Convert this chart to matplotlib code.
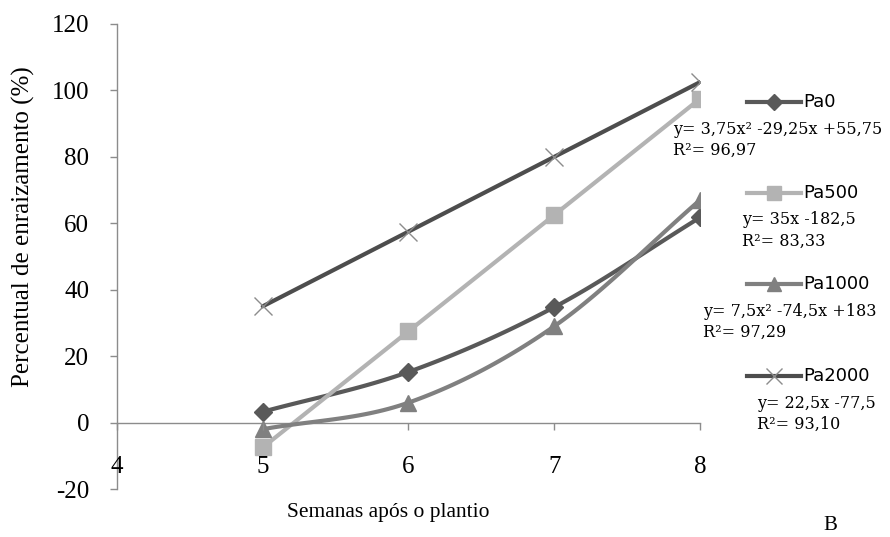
import numpy as np
import matplotlib
matplotlib.use("Agg")
import matplotlib.pyplot as plt
from matplotlib.lines import Line2D

plt.rcParams["axes.unicode_minus"] = False

# semanas após o plantio
semanas = [5, 6, 7, 8]

# percentual de enraizamento por tratamento
pa0 = [3.25, 15.25, 34.75, 61.75]
pa500 = [-7.5, 27.5, 62.5, 97.5]
pa1000 = [-2.0, 6.0, 29.0, 67.0]
pa2000 = [35.0, 57.5, 80.0, 102.5]

nomes = ["Pa0", "Pa500", "Pa1000", "Pa2000"]
equacoes = ["y= 3,75x² -29,25x +55,75", "y= 35x -182,5",
            "y= 7,5x² -74,5x +183", "y= 22,5x -77,5"]
r2 = ["R²= 96,97", "R²= 83,33", "R²= 97,29", "R²= 93,10"]

cores = ["#595959", "#b3b3b3", "#808080", "#4d4d4d"]
marcadores = ["D", "s", "^", "x"]
tam_marc = [9, 11, 11, 13]


def suaviza(x, y, n=30):
    # curva tipo Catmull-Rom passando pelos pontos (linha suavizada)
    x = np.asarray(x, float)
    y = np.asarray(y, float)
    px = np.concatenate([[2 * x[0] - x[1]], x, [2 * x[-1] - x[-2]]])
    py = np.concatenate([[2 * y[0] - y[1]], y, [2 * y[-1] - y[-2]]])
    xs, ys = [], []
    t = np.linspace(0, 1, n)
    for i in range(1, len(px) - 2):
        for p, out in ((px, xs), (py, ys)):
            p0, p1, p2, p3 = p[i - 1], p[i], p[i + 1], p[i + 2]
            out.extend(0.5 * ((2 * p1) + (-p0 + p2) * t
                              + (2 * p0 - 5 * p1 + 4 * p2 - p3) * t ** 2
                              + (-p0 + 3 * p1 - 3 * p2 + p3) * t ** 3))
    return xs, ys


fig = plt.figure(figsize=(8.9, 5.37), dpi=100)
ax = fig.add_axes([117 / 890, 1 - 489 / 537, (700 - 117) / 890, (489 - 24) / 537])

series = [pa0, pa500, pa1000, pa2000]
for vals, cor, m, ms in zip(series, cores, marcadores, tam_marc):
    xs, ys = suaviza(semanas, vals)
    ax.plot(xs, ys, color=cor, lw=3, solid_capstyle="round", zorder=3)
    if m == "x":
        ax.plot(semanas, vals, ls="none", marker="x", ms=ms, mew=1.0,
                color="#8c8c8c", zorder=4)
    else:
        ax.plot(semanas, vals, ls="none", marker=m, ms=ms, color=cor,
                mec=cor, zorder=4)

ax.set_xlim(4, 8)
ax.set_ylim(-20, 120)
ax.set_xticks([4, 5, 6, 7, 8])
ax.set_yticks(range(-20, 121, 20))

serif = "Liberation Serif"
for s in ["top", "right"]:
    ax.spines[s].set_visible(False)
ax.spines["bottom"].set_position(("data", 0))
for s in ["bottom", "left"]:
    ax.spines[s].set_color("#8c8c8c")
    ax.spines[s].set_linewidth(1.0)
ax.xaxis.set_zorder(5)
ax.tick_params(axis="both", colors="#8c8c8c", length=5, width=1.0,
               labelcolor="black", labelsize=18)
ax.tick_params(axis="x", direction="out", pad=19)
ax.tick_params(axis="y", pad=15)
for lab in ax.get_xticklabels() + ax.get_yticklabels():
    lab.set_fontfamily(serif)

fig.text(23 / 890, 1 - 227 / 537, "Percentual de enraizamento (%)",
         fontsize=18, family=serif, rotation=90, ha="center", va="center")
fig.text(287 / 890, 1 - 512 / 537, "Semanas após o plantio", fontsize=15.5,
         family=serif, ha="left", va="center")
fig.text(830 / 890, 1 - 526 / 537, "B", fontsize=15, family=serif,
         ha="center", va="center")

# legenda com as equações ajustadas
leg_y = [102, 193, 284, 376]
eq_x = [673, 742, 703, 757]
for i in range(4):
    yf = 1 - leg_y[i] / 537
    m = marcadores[i]
    cm = cores[i] if m != "x" else "#8c8c8c"
    h = Line2D([747 / 890, 774 / 890, 801 / 890], [yf, yf, yf],
               transform=fig.transFigure, color=cores[i], lw=3,
               marker=m, markevery=[1], ms=tam_marc[i] - 1,
               mfc=cm, mec=cm, mew=1.0)
    fig.add_artist(h)
    fig.text(803 / 890, yf, nomes[i], fontsize=13, family="DejaVu Sans",
             va="center", ha="left")
    fig.text(eq_x[i] / 890, 1 - (leg_y[i] + 27) / 537, equacoes[i],
             fontsize=11.5, family="DejaVu Serif", va="center", ha="left")
    fig.text(eq_x[i] / 890, 1 - (leg_y[i] + 48) / 537, r2[i],
             fontsize=11.5, family="DejaVu Serif", va="center", ha="left")

fig.savefig("out.png", dpi=100)
